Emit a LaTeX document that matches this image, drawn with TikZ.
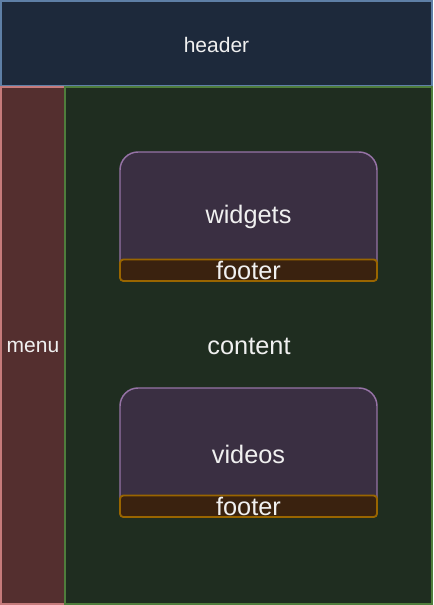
\documentclass[tikz,border=0pt]{standalone}
\usepackage{fontspec}
\setmainfont{Liberation Sans}
\definecolor{hdrfill}{HTML}{1D293B}
\definecolor{hdrline}{HTML}{5E7FA6}
\definecolor{menufill}{HTML}{542F2F}
\definecolor{menuline}{HTML}{C57B7B}
\definecolor{contfill}{HTML}{1F2D20}
\definecolor{contline}{HTML}{4F7D3C}
\definecolor{boxfill}{HTML}{3A2F42}
\definecolor{boxline}{HTML}{9673A6}
\definecolor{footfill}{HTML}{3A220F}
\definecolor{footline}{HTML}{996500}
\definecolor{txt}{HTML}{F0F0F0}
\tikzset{
  border/.style={line width=1.1pt},
  smalltxt/.style={text=txt, font=\fontsize{15.75}{18}\selectfont, inner sep=0pt},
  bigtxt/.style={text=txt, font=\fontsize{19}{22}\selectfont, inner sep=0pt},
}
\begin{document}
\begin{tikzpicture}[x=0.75pt,y=-0.75pt]
\useasboundingbox (0,0) rectangle (433,605);
% header
\draw[border, fill=hdrfill, draw=hdrline] (1,1) rectangle (432,86);
\node[smalltxt] (header) at (216.5,45) {header};
% menu
\draw[border, fill=menufill, draw=menuline] (1,87) rectangle (65,604);
\node[smalltxt] (menu) at (33,347) {menu};
% content
\draw[border, fill=contfill, draw=contline] (65,87) rectangle (432,604);
\node[bigtxt] (content) at (249,346) {content};
% widgets
\draw[border, fill=boxfill, draw=boxline, rounded corners=18*0.75pt]
  (120,275) -- (120,152) -- (377,152) [sharp corners] -- (377,275);
\node[bigtxt] (widgets) at (248.5,217) {widgets};
\draw[line width=1.4pt, fill=footfill, draw=footline, rounded corners=2.5pt] (120,259.5) rectangle (377,281);
\node[bigtxt] (footer1) at (248.5,270.5) {footer};
% videos
\draw[border, fill=boxfill, draw=boxline, rounded corners=18*0.75pt]
  (120,511) -- (120,388) -- (377,388) [sharp corners] -- (377,511);
\node[bigtxt] (videos) at (248.5,454) {videos};
\draw[line width=1.4pt, fill=footfill, draw=footline, rounded corners=2.5pt] (120,495.5) rectangle (377,517);
\node[bigtxt] (footer2) at (248.5,506.5) {footer};
\end{tikzpicture}
\end{document}
